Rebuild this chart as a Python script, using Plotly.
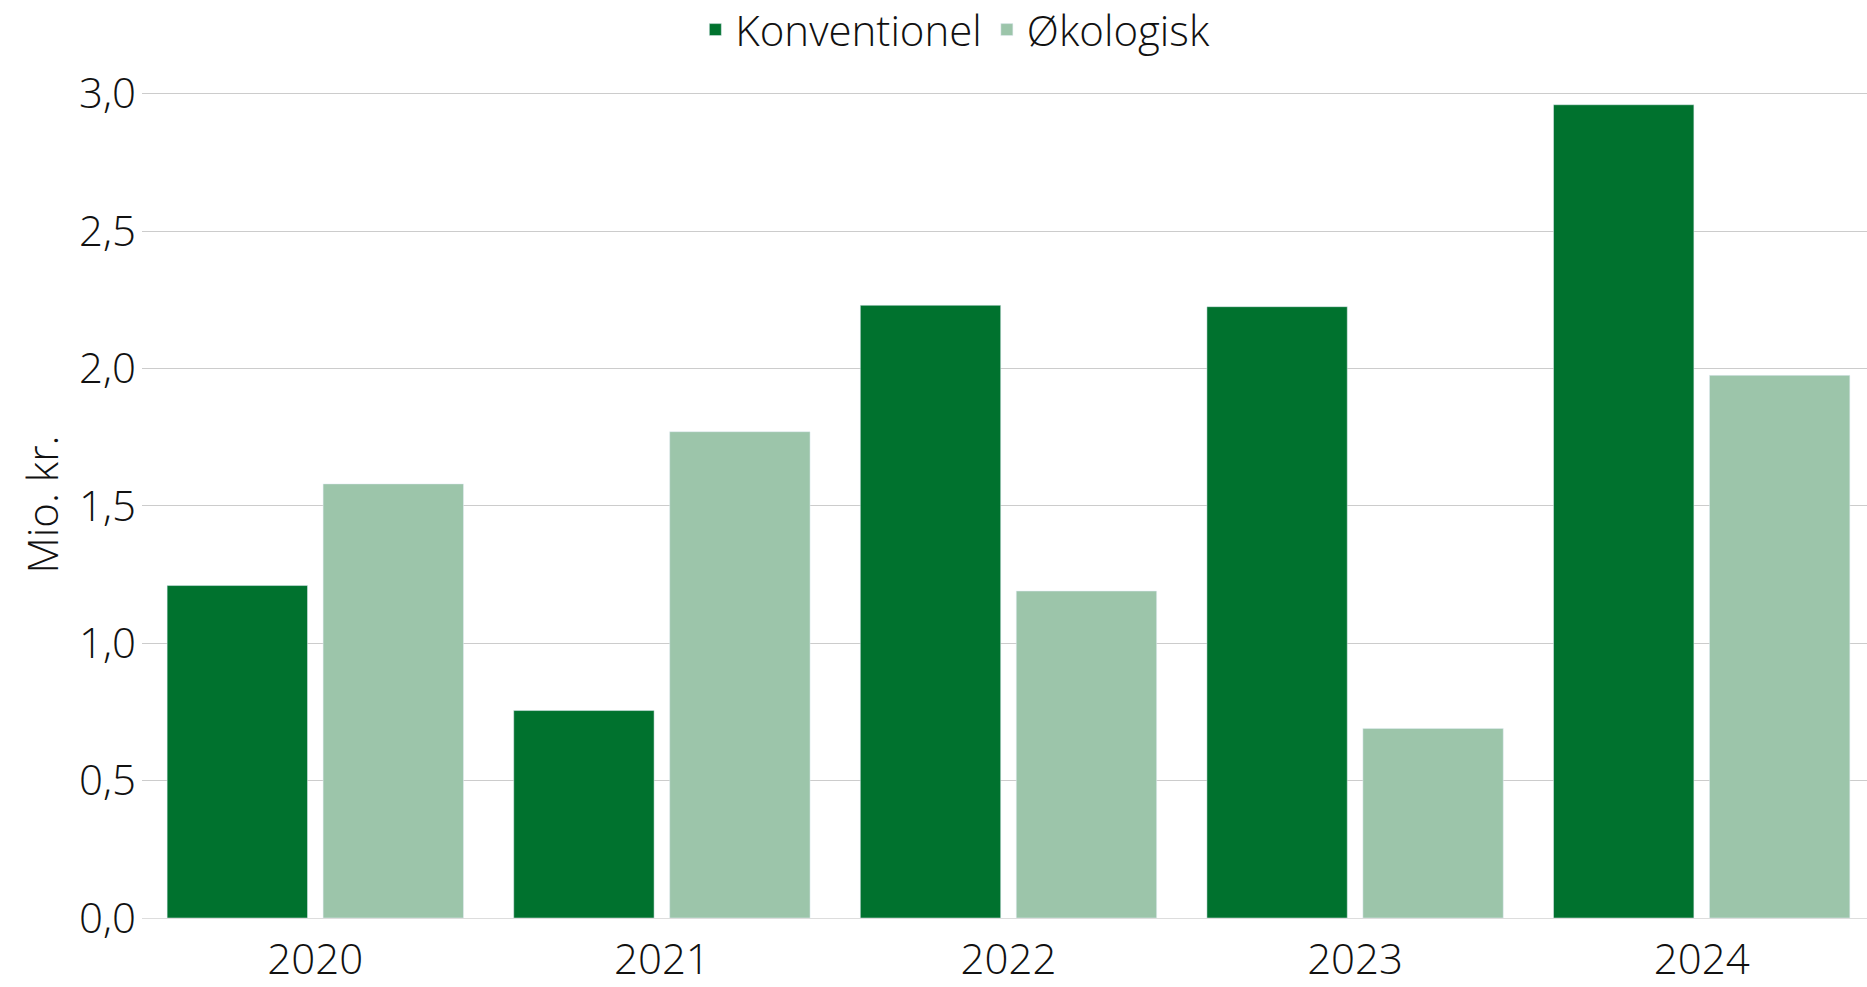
import plotly.graph_objects as go

years = ["2020", "2021", "2022", "2023", "2024"]
konventionel = [1.21, 0.755, 2.23, 2.225, 2.96]
okologisk = [1.58, 1.77, 1.19, 0.69, 1.975]
y_ticks = [0, 0.5, 1.0, 1.5, 2.0, 2.5, 3.0]
y_ticklabels = ["0,0", "0,5", "1,0", "1,5", "2,0", "2,5", "3,0"]

FONT = "Open Sans"
FS = 42
fig = go.Figure()
fig.add_trace(go.Bar(name="Konventionel", x=years, y=konventionel, marker_color="#00722E"))
fig.add_trace(go.Bar(name="Økologisk", x=years, y=okologisk, marker_color="#9CC5AA"))

fig.update_layout(
    width=1867, height=987,
    margin=dict(l=142, r=0, t=90.75, b=68.5, autoexpand=False),
    barmode="group", bargap=0.1, bargroupgap=0.1,
    plot_bgcolor="white", paper_bgcolor="white",
    font=dict(family=FONT, size=FS, color="#111111", weight=300),
    legend=dict(orientation="h", x=0.4715, xanchor="center", y=1.074, yanchor="middle",
                font=dict(size=FS, family=FONT, weight=300), itemclick=False),
    xaxis=dict(range=[-0.5, 4.477], showgrid=False, ticks="", tickfont=dict(size=FS),
               ticklabelstandoff=13, automargin=False),
    yaxis=dict(range=[0, 3.01], tickvals=y_ticks, ticktext=y_ticklabels,
               showgrid=True, gridcolor="#CCCCCC", gridwidth=1, zeroline=True,
               zerolinecolor="#DDDDDD", zerolinewidth=1, ticks="", tickfont=dict(size=FS),
               ticklabelstandoff=5, automargin=False,
               title=dict(text="Mio. kr.", font=dict(size=FS), standoff=7)),
)
fig.write_html("out.html", config={"displayModeBar": False},
               post_script="document.body.style.margin='0';document.body.style.overflow='hidden';")
